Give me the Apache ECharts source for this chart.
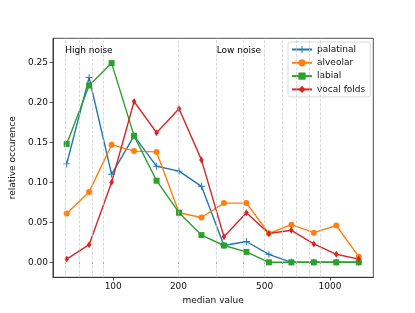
<!DOCTYPE html>
<html>
<head>
<meta charset="utf-8">
<script src="https://cdn.jsdelivr.net/npm/echarts@6/dist/echarts.min.js"></script>
<style>
html,body{margin:0;padding:0;background:#fff;}
#chart{width:415px;height:313px;}
</style>
</head>
<body>
<div id="chart"></div>
<script>
// ---- data ----
var medianValues = [61.0, 77.4, 98.3, 124.8, 158.5, 201.2, 255.4, 324.3, 411.8, 522.8, 663.7, 842.7, 1070, 1358];
var palatinal  = [0.123, 0.231, 0.110, 0.158, 0.120, 0.114, 0.095, 0.021, 0.026, 0.010, 0.000, 0.000, 0.000, 0.000];
var alveolar   = [0.061, 0.088, 0.147, 0.139, 0.138, 0.062, 0.056, 0.074, 0.074, 0.036, 0.047, 0.037, 0.046, 0.007];
var labial     = [0.148, 0.221, 0.249, 0.158, 0.102, 0.062, 0.034, 0.021, 0.013, 0.000, 0.000, 0.000, 0.000, 0.000];
var vocalFolds = [0.004, 0.022, 0.100, 0.201, 0.162, 0.192, 0.128, 0.032, 0.062, 0.036, 0.040, 0.023, 0.010, 0.004];
var seriesNames = ['palatinal', 'alveolar', 'labial', 'vocal folds'];
var yTicks = [0.00, 0.05, 0.10, 0.15, 0.20, 0.25];
var xLabelTicks = [100, 200, 500, 1000];
var xMajorTicks = [100, 1000];
var xMinorTicks = [60, 70, 80, 90, 200, 300, 400, 500, 600, 700, 800, 900];
var gridLineValues = [60, 70, 80, 90, 200, 300, 400, 500, 600, 700, 800, 900];
var annotations = [[60, 0.2645, 'High noise'], [300, 0.2645, 'Low noise']];

function pairs(vals){ return medianValues.map(function(x,i){ return [x, vals[i]]; }); }

var FONT = 'DejaVu Sans';
var TXT = '#111111';
var colors = ['#1f77b4', '#ff7f0e', '#2ca02c', '#d62728'];
var plusPath = 'path://M4.35,0H5.65V4.35H10V5.65H5.65V10H4.35V5.65H0V4.35H4.35Z';

var chart = echarts.init(document.getElementById('chart'), null, {renderer:'canvas'});
function lineSeries(name, vals, color, symbol, size){
  return {
    name: name, type: 'line', data: pairs(vals),
    xAxisIndex: 0, yAxisIndex: 0,
    symbol: symbol, symbolSize: size, showAllSymbol: true,
    lineStyle: {color: color, width: 1.4},
    itemStyle: {color: color, borderWidth: 0},
    z: 3, animation: false, silent: true
  };
}
var option = {
  animation: false,
  color: colors,
  grid: {left: 51, right: 41.7, top: 38.3, bottom: 35.7, show: true, borderColor: '#222', borderWidth: 0.8, backgroundColor: 'transparent'},
  legend: {
    data: seriesNames,
    orient: 'vertical', left: 288, top: 42,
    padding: [3, 5, 3, 3],
    itemWidth: 20, itemHeight: 9, itemGap: 4.3,
    backgroundColor: 'rgba(255,255,255,0.8)', borderColor: '#d0d0d0', borderWidth: 0.8, borderRadius: 2,
    textStyle: {fontFamily: FONT, fontSize: 9, color: TXT, lineHeight: 9}
  },
  xAxis: [{
    type: 'log', logBase: 10, min: 52.7, max: 1585,
    name: 'median value', nameLocation: 'middle', nameGap: 19,
    nameTextStyle: {fontFamily: FONT, fontSize: 9, color: TXT},
    axisLine: {show: true, onZero: false, lineStyle: {color: '#222', width: 0.8}},
    axisTick: {show: true, length: 3.2, customValues: xMajorTicks, lineStyle: {color: '#222', width: 0.8}},
    axisLabel: {show: true, customValues: xLabelTicks, margin: 5, fontFamily: FONT, fontSize: 9, color: TXT,
      formatter: function(v){ return String(Math.round(v)); }},
    splitLine: {show: false}, minorTick: {show: false}
  }, {
    type: 'log', logBase: 10, min: 52.7, max: 1585, position: 'bottom',
    axisLine: {show: false},
    axisTick: {show: true, length: 1.8, customValues: xMinorTicks, lineStyle: {color: '#222', width: 0.6}},
    axisLabel: {show: false}, splitLine: {show: false}
  }],
  yAxis: {
    type: 'value', min: -0.01875, max: 0.28,
    name: 'relative occurence', nameLocation: 'middle', nameGap: 30,
    nameTextStyle: {fontFamily: FONT, fontSize: 9, color: TXT},
    axisLine: {show: true, onZero: false, lineStyle: {color: '#222', width: 0.8}},
    axisTick: {show: true, length: 3.2, customValues: yTicks, lineStyle: {color: '#222', width: 0.8}},
    axisLabel: {show: true, customValues: yTicks, margin: 5, fontFamily: FONT, fontSize: 9, color: TXT,
      formatter: function(v){ return v.toFixed(2); }},
    splitLine: {show: false}
  },
  series: [
    {
      name: 'gridlines', type: 'line', data: [], xAxisIndex: 0, yAxisIndex: 0, z: 1, silent: true,
      markLine: {
        silent: true, symbol: ['none', 'none'], label: {show: false}, animation: false,
        lineStyle: {type: [3, 1.5], color: '#c8c8c8', width: 0.7},
        data: gridLineValues.map(function(v){ return {xAxis: v}; })
      }
    },
    lineSeries('palatinal', palatinal, colors[0], plusPath, 7),
    lineSeries('alveolar', alveolar, colors[1], 'circle', 6),
    lineSeries('labial', labial, colors[2], 'rect', 6),
    lineSeries('vocal folds', vocalFolds, colors[3], 'diamond', [4.6, 7]),
    {
      name: 'annotations', type: 'scatter', xAxisIndex: 0, yAxisIndex: 0, silent: true, z: 5,
      data: annotations, symbolSize: 0, itemStyle: {opacity: 1},
      label: {show: true, position: 'right', distance: 0, fontFamily: FONT, fontSize: 9, color: '#000', opacity: 1,
        formatter: function(p){ return p.data[2]; }}
    }
  ]
};
chart.setOption(option);
</script>
</body>
</html>
